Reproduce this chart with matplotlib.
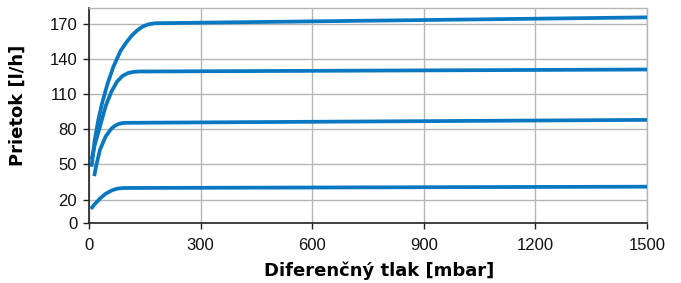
import matplotlib
matplotlib.use('Agg')
import matplotlib.pyplot as plt

# flow curves (x in mbar, y in l/h)
x_170 = [7, 15, 25, 35, 50, 65, 85, 100, 115, 130, 145, 160, 178, 1500]
y_170 = [48, 70, 88, 102, 119, 133, 147, 154, 160, 164.5, 167.8, 169.6, 170.5, 175.5]

x_128 = [7, 15, 30, 45, 60, 75, 90, 105, 120, 135, 1500]
y_128 = [54, 66, 83, 100, 112, 120.5, 125.5, 128, 129, 129.3, 131]

x_85 = [14, 20, 30, 45, 60, 70, 80, 90, 100, 1500]
y_85 = [40, 50, 63, 74, 80.5, 83, 84.6, 85.3, 85.5, 88]

x_30 = [5, 15, 30, 45, 60, 70, 80, 90, 100, 1500]
y_30 = [12, 16, 21, 25, 27.6, 28.8, 29.5, 29.8, 29.9, 31]

xticks = [0, 300, 600, 900, 1200, 1500]
yticks = [0, 20, 50, 80, 110, 140, 170]

line_color = '#0a78c0'
grid_color = '#b5b5b5'

plt.rcParams['font.family'] = ['Liberation Sans', 'DejaVu Sans']

fig = plt.figure(figsize=(6.81, 2.83), dpi=100)
ax = fig.add_axes([89 / 681, 1 - 223 / 283, 558 / 681, 215 / 283])

for xs, ys in [(x_30, y_30), (x_85, y_85), (x_128, y_128), (x_170, y_170)]:
    ax.plot(xs, ys, color=line_color, lw=2.7, solid_joinstyle='round',
            solid_capstyle='butt', zorder=3)

ax.set_xlim(0, 1500)
ax.set_ylim(0, 183.5)
ax.set_xticks(xticks)
ax.set_yticks(yticks)
ax.grid(True, color=grid_color, lw=1)
ax.set_axisbelow(True)

for s in ['top', 'right']:
    ax.spines[s].set_color(grid_color)
    ax.spines[s].set_linewidth(1)
for s in ['left', 'bottom']:
    ax.spines[s].set_color('#222222')
    ax.spines[s].set_linewidth(1.2)

ax.tick_params(axis='both', direction='out', length=4.5, width=1,
               color='#222222', labelsize=12, labelcolor='#111111')
ax.tick_params(axis='x', pad=6.5)
ax.tick_params(axis='y', pad=4)

fig.text(379 / 681, 1 - 271 / 283, 'Diferenčný tlak [mbar]', ha='center',
         va='center', fontsize=13, fontweight='bold', family='DejaVu Sans')
fig.text(18 / 681, 1 - 105 / 283, 'Prietok [l/h]', ha='center', va='center',
         rotation=90, fontsize=13, fontweight='bold', family='DejaVu Sans')

fig.savefig('out.png', dpi=100)
